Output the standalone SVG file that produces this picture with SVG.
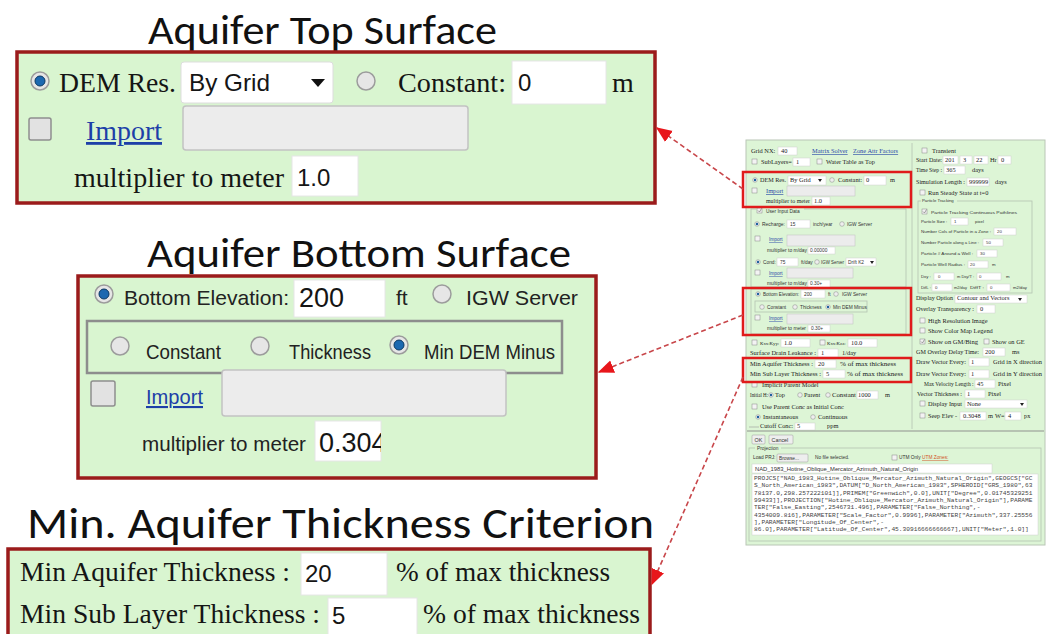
<svg xmlns="http://www.w3.org/2000/svg" width="1052" height="634" viewBox="0 0 1052 634">
<defs>
<style>
.title{font-family:Carlito,Lato,"Open Sans",sans-serif;font-size:41px;fill:#111}
.pan{fill:#d9f5d0;stroke:#9b1b1b;stroke-width:3.5}
.tm{font-family:"Liberation Serif",serif;font-size:28px;fill:#151515}
.tm27{font-family:"Liberation Serif",serif;font-size:27px;fill:#151515}
.sn{font-family:"Liberation Sans",sans-serif;font-size:21px;fill:#222}
.nv{font-family:"Liberation Sans",sans-serif;font-size:24px;fill:#151515}
.inp{fill:#fff;stroke:#e6e6e6;stroke-width:1}
.gin{fill:#ececec;stroke:#c2c2c2;stroke-width:1.5}
.rad{fill:#e6e6e6;stroke:#9c9c9c;stroke-width:1.5}
.dot{fill:#1c68b0;stroke:#0b3863;stroke-width:1}
.chk{fill:#e2e2e2;stroke:#8e8e8e;stroke-width:1.5}
.lnk{fill:#1d3fa8;text-decoration:underline}
.conn{stroke:#c8464a;stroke-width:1.6;stroke-dasharray:5 3;fill:none}
.hl{fill:none;stroke:#e01b1b;stroke-width:2.5}
.sm{font-family:"Liberation Serif",serif;font-size:6.4px;fill:#222}
.ss{font-family:"Liberation Sans",sans-serif;font-size:4.8px;fill:#333}
.sp{font-family:"Liberation Sans",sans-serif;font-size:4.3px;fill:#333}
.mo{font-family:"Liberation Mono",monospace;font-size:6.2px;fill:#444}
.si{fill:#fff;stroke:#d0d0d0;stroke-width:0.5}
.sg{fill:#ececec;stroke:#c0c0c0;stroke-width:0.5}
.sr{fill:#eee;stroke:#888;stroke-width:0.5}
.sd{fill:#1c5f9e}
.sc{fill:#f3f3f3;stroke:#888;stroke-width:0.5}
.sl{fill:#2a48a8;text-decoration:underline}
.fs{fill:none;stroke:#b5c2b2;stroke-width:0.8}
</style>
<marker id="ah" viewBox="0 0 12 10" refX="11" refY="5" markerWidth="16" markerHeight="14" markerUnits="userSpaceOnUse" orient="auto">
<path d="M0,0 L12,5 L0,10 z" fill="#e8161b"/>
</marker>
<clipPath id="c304"><rect x="315" y="421" width="66" height="40"/></clipPath>
</defs>
<rect width="1052" height="634" fill="#fff"/>

<g id="title-top"><text class="title" x="148" y="44" textLength="349" lengthAdjust="spacingAndGlyphs">Aquifer Top Surface</text></g>
<g id="title-bottom"><text class="title" x="147" y="267" textLength="424" lengthAdjust="spacingAndGlyphs">Aquifer Bottom Surface</text></g>
<g id="title-thick"><text class="title" x="27" y="538" style="font-size:44px" textLength="627" lengthAdjust="spacingAndGlyphs">Min. Aquifer Thickness Criterion</text></g>

<g id="panel-top">
<rect class="pan" x="17" y="52" width="638" height="151"/>
<circle class="rad" cx="40" cy="81" r="9"/><circle class="dot" cx="40" cy="81" r="5"/>
<text class="tm" x="59" y="92" textLength="117" lengthAdjust="spacingAndGlyphs">DEM Res.</text>
<rect x="181" y="62" width="152" height="41" rx="3" fill="#fff" stroke="#ddd"/>
<text class="nv" x="189" y="91" textLength="81" lengthAdjust="spacingAndGlyphs">By Grid</text>
<polygon points="311,79 325,79 318,87" fill="#111"/>
<circle class="rad" cx="366" cy="81" r="9"/>
<text class="tm" x="398" y="92" textLength="108" lengthAdjust="spacingAndGlyphs">Constant:</text>
<rect class="inp" x="512" y="61" width="94" height="43"/>
<text class="nv" x="518" y="91">0</text>
<text class="tm" x="612" y="92">m</text>
<rect class="chk" x="29" y="118" width="22" height="22" rx="2"/>
<text class="tm lnk" x="86" y="140" textLength="76" lengthAdjust="spacingAndGlyphs">Import</text>
<rect class="gin" x="183" y="106" width="285" height="44" rx="3"/>
<text class="tm" x="74" y="187" textLength="210" lengthAdjust="spacingAndGlyphs">multiplier to meter</text>
<rect class="inp" x="292" y="156" width="66" height="40"/>
<text class="nv" x="297" y="186">1.0</text>
</g>

<g id="panel-bottom">
<rect class="pan" x="78" y="276" width="518" height="202"/>
<circle class="rad" cx="104" cy="294" r="9"/><circle class="dot" cx="104" cy="294" r="5"/>
<text class="sn" x="124" y="305" textLength="165" lengthAdjust="spacingAndGlyphs">Bottom Elevation:</text>
<rect class="inp" x="294" y="280" width="91" height="37"/>
<text class="nv" x="299" y="307" style="font-size:27px">200</text>
<text class="sn" x="396" y="305">ft</text>
<circle class="rad" cx="442" cy="294" r="9"/>
<text class="sn" x="466" y="305" textLength="112" lengthAdjust="spacingAndGlyphs">IGW Server</text>
<rect x="87" y="321" width="475" height="52" fill="none" stroke="#8d8d8d" stroke-width="2.5"/>
<circle class="rad" cx="120" cy="346" r="9"/>
<text class="sn" x="146" y="359" textLength="75" lengthAdjust="spacingAndGlyphs">Constant</text>
<circle class="rad" cx="260" cy="346" r="9"/>
<text class="sn" x="289" y="359" textLength="82" lengthAdjust="spacingAndGlyphs">Thickness</text>
<circle class="rad" cx="399" cy="345" r="9"/><circle class="dot" cx="399" cy="345" r="5"/>
<text class="sn" x="424" y="359" textLength="131" lengthAdjust="spacingAndGlyphs">Min DEM Minus</text>
<rect class="chk" x="91" y="381" width="24" height="25" rx="2"/>
<text class="sn lnk" x="146" y="404" textLength="57" lengthAdjust="spacingAndGlyphs">Import</text>
<rect class="gin" x="222" y="370" width="284" height="46" rx="3"/>
<text class="sn" x="142" y="451" textLength="164" lengthAdjust="spacingAndGlyphs">multiplier to meter</text>
<rect class="inp" x="315" y="421" width="66" height="40"/>
<text class="nv" x="319" y="452" style="font-size:27px" clip-path="url(#c304)">0.304</text>
</g>

<g id="panel-thick">
<rect class="pan" x="8" y="549" width="642" height="95"/>
<text class="tm27" x="20" y="581" textLength="270" lengthAdjust="spacingAndGlyphs">Min Aquifer Thickness :</text>
<rect class="inp" x="301" y="553" width="86" height="42"/>
<text class="nv" x="305" y="582">20</text>
<text class="tm27" x="396" y="581" textLength="214" lengthAdjust="spacingAndGlyphs">% of max thickness</text>
<text class="tm27" x="20" y="623" textLength="300" lengthAdjust="spacingAndGlyphs">Min Sub Layer Thickness :</text>
<rect class="inp" x="328" y="598" width="89" height="40"/>
<text class="nv" x="332" y="624">5</text>
<text class="tm27" x="423" y="623" textLength="217" lengthAdjust="spacingAndGlyphs">% of max thickness</text>
</g>

<g id="screenshot">
<rect x="746" y="140" width="299" height="405" fill="#ddf5d6" stroke="#b9c6b6" stroke-width="1"/>
<line x1="912" y1="143" x2="912" y2="429" stroke="#b5c2b2" stroke-width="0.8"/>
<!-- left column -->
<text class="sm" x="751" y="153">Grid NX:</text>
<rect class="si" x="778" y="147" width="19" height="8"/><text class="sm" x="781" y="153">40</text>
<text class="sm sl" x="812" y="153">Matrix Solver</text>
<text class="sm sl" x="853" y="153">Zone Attr Factors</text>
<rect class="sc" x="752" y="159" width="5" height="5"/>
<text class="sm" x="761" y="164">SubLayers=</text>
<rect class="si" x="793" y="158" width="17" height="8"/><text class="sm" x="796" y="164">1</text>
<rect class="sc" x="817" y="159" width="5" height="5"/>
<text class="sm" x="826" y="164">Water Table as Top</text>

<circle class="sr" cx="755" cy="180" r="2.3"/><circle class="sd" cx="755" cy="180" r="1.2"/>
<text class="sm" x="760" y="182" textLength="26" lengthAdjust="spacingAndGlyphs">DEM Res.</text>
<rect class="si" x="788" y="176" width="38" height="9"/><text class="sm" x="790" y="182">By Grid</text>
<polygon points="818,179 822,179 820,182" fill="#222"/>
<circle class="sr" cx="832" cy="180" r="2.3"/>
<text class="sm" x="838" y="182" textLength="24" lengthAdjust="spacingAndGlyphs">Constant:</text>
<rect class="si" x="864" y="176" width="22" height="9"/><text class="sm" x="866" y="182">0</text>
<text class="sm" x="890" y="182">m</text>
<rect class="sc" x="752" y="188" width="5" height="5"/>
<text class="sm sl" x="766" y="193">Import</text>
<rect class="sg" x="787" y="186" width="68" height="10"/>
<text class="sm" x="766" y="203" textLength="44" lengthAdjust="spacingAndGlyphs">multiplier to meter</text>
<rect class="si" x="812" y="197" width="18" height="8"/><text class="sm" x="814" y="203">1.0</text>

<rect class="fs" x="751" y="209" width="155" height="78"/>
<rect x="756" y="207" width="48" height="6" fill="#ddf5d6"/>
<rect class="sc" x="757" y="208" width="5" height="5"/>
<path d="M758,210.5 L759.5,212 L761.5,208.5" stroke="#666" stroke-width="0.6" fill="none"/>
<text class="ss" x="766" y="213">User Input Data</text>
<circle class="sr" cx="757" cy="224" r="2.3"/><circle class="sd" cx="757" cy="224" r="1.2"/>
<text class="ss" x="762" y="226" textLength="23" lengthAdjust="spacingAndGlyphs">Recharge:</text>
<rect class="si" x="787" y="220" width="23" height="8"/><text class="ss" x="790" y="226">15</text>
<text class="ss" x="813" y="226">inch/year</text>
<circle class="sr" cx="842" cy="224" r="2.3"/>
<text class="ss" x="847" y="226">IGW Server</text>
<rect class="sc" x="755" y="236" width="5" height="5"/>
<text class="ss sl" x="769" y="241">Import</text>
<rect class="sg" x="787" y="235" width="68" height="11"/>
<text class="ss" x="767" y="252" textLength="40" lengthAdjust="spacingAndGlyphs">multiplier to m/day</text>
<rect class="si" x="808" y="247" width="27" height="7"/><text class="ss" x="810" y="252">0.00000</text>
<circle class="sr" cx="758" cy="262" r="2.3"/><circle class="sd" cx="758" cy="262" r="1.2"/>
<text class="ss" x="763" y="264">Cond:</text>
<rect class="si" x="777" y="258" width="21" height="8"/><text class="ss" x="780" y="264">75</text>
<text class="ss" x="801" y="264">ft/day</text>
<circle class="sr" cx="817" cy="262" r="2.3"/>
<text class="ss" x="821" y="264" textLength="23" lengthAdjust="spacingAndGlyphs">IGW Server</text>
<rect class="si" x="846" y="258" width="30" height="8"/><text class="ss" x="848" y="264">Drift K2</text>
<polygon points="870,261 874,261 872,264" fill="#222"/>
<rect class="sc" x="755" y="270" width="5" height="5"/>
<text class="ss sl" x="769" y="275">Import</text>
<rect class="sg" x="787" y="268" width="66" height="10"/>
<text class="ss" x="767" y="285" textLength="40" lengthAdjust="spacingAndGlyphs">multiplier to m/day</text>
<rect class="si" x="808" y="280" width="22" height="7"/><text class="ss" x="810" y="285">0.30+</text>

<rect class="fs" x="751" y="289" width="155" height="45"/>
<circle class="sr" cx="758" cy="294" r="2.3"/><circle class="sd" cx="758" cy="294" r="1.2"/>
<text class="ss" x="763" y="296" textLength="36" lengthAdjust="spacingAndGlyphs">Bottom Elevation:</text>
<rect class="si" x="801" y="290" width="24" height="8"/><text class="ss" x="804" y="296">200</text>
<text class="ss" x="828" y="296">ft</text>
<circle class="sr" cx="836" cy="294" r="2.3"/>
<text class="ss" x="842" y="296">IGW Server</text>
<rect class="fs" x="755" y="301" width="112" height="11" stroke="#999"/>
<circle class="sr" cx="762" cy="307" r="2.3"/>
<text class="ss" x="767" y="309">Constant</text>
<circle class="sr" cx="795" cy="307" r="2.3"/>
<text class="ss" x="800" y="309">Thickness</text>
<circle class="sr" cx="828" cy="307" r="2.3"/><circle class="sd" cx="828" cy="307" r="1.2"/>
<text class="ss" x="833" y="309">Min DEM Minus</text>
<rect class="sc" x="755" y="315" width="5" height="5"/>
<text class="ss sl" x="769" y="320">Import</text>
<rect class="sg" x="787" y="314" width="66" height="10"/>
<text class="ss" x="767" y="330" textLength="39" lengthAdjust="spacingAndGlyphs">multiplier to meter</text>
<rect class="si" x="808" y="325" width="22" height="7"/><text class="ss" x="811" y="330">0.30+</text>

<rect class="sc" x="752" y="340" width="5" height="5"/>
<text class="sm" x="760" y="345" style="font-size:4.8px">Kxx:Kyy:</text>
<rect class="si" x="781" y="339" width="29" height="8"/><text class="sm" x="784" y="345">1.0</text>
<rect class="sc" x="820" y="340" width="5" height="5"/>
<text class="sm" x="827" y="345" style="font-size:4.8px">Kxx:Kzz:</text>
<rect class="si" x="848" y="339" width="29" height="8"/><text class="sm" x="851" y="345">10.0</text>
<text class="sm" x="750" y="355" textLength="66" lengthAdjust="spacingAndGlyphs">Surface Drain Leakance :</text>
<rect class="si" x="818" y="349" width="20" height="8"/><text class="sm" x="821" y="355">1</text>
<text class="sm" x="842" y="355">1/day</text>
<text class="sm" x="750" y="366" textLength="63" lengthAdjust="spacingAndGlyphs">Min Aquifer Thickness :</text>
<rect class="si" x="815" y="360" width="21" height="8"/><text class="sm" x="818" y="366">20</text>
<text class="sm" x="840" y="366" textLength="56" lengthAdjust="spacingAndGlyphs">% of max thickness</text>
<text class="sm" x="750" y="376" textLength="71" lengthAdjust="spacingAndGlyphs">Min Sub Layer Thickness :</text>
<rect class="si" x="823" y="370" width="22" height="8"/><text class="sm" x="826" y="376">5</text>
<text class="sm" x="847" y="376" textLength="56" lengthAdjust="spacingAndGlyphs">% of max thickness</text>
<rect class="sc" x="752" y="382" width="5" height="5"/>
<text class="sm" x="762" y="387">Implicit Parent Model</text>
<text class="sm" x="750" y="397" textLength="18" lengthAdjust="spacingAndGlyphs">Initial H:</text>
<circle class="sr" cx="771" cy="395" r="2.3"/><circle class="sd" cx="771" cy="395" r="1.2"/>
<text class="sm" x="775" y="397">Top</text>
<circle class="sr" cx="800" cy="395" r="2.3"/>
<text class="sm" x="804" y="397">Parent</text>
<circle class="sr" cx="828" cy="395" r="2.3"/>
<text class="sm" x="832" y="397" textLength="24" lengthAdjust="spacingAndGlyphs">Constant</text>
<rect class="si" x="857" y="391" width="21" height="8"/><text class="sm" x="858" y="397">1000</text>
<text class="sm" x="885" y="397">m</text>
<rect class="sc" x="752" y="404" width="5" height="5"/>
<text class="sm" x="762" y="409">Use Parent Conc as Initial Conc</text>
<circle class="sr" cx="758" cy="417" r="2.3"/><circle class="sd" cx="758" cy="417" r="1.2"/>
<text class="sm" x="763" y="419">Instantaneous</text>
<circle class="sr" cx="813" cy="417" r="2.3"/>
<text class="sm" x="818" y="419">Continuous</text>
<line x1="749" y1="427" x2="759" y2="427" stroke="#999" stroke-width="0.6"/>
<text class="sm" x="760" y="428" textLength="33" lengthAdjust="spacingAndGlyphs">Cutoff Conc:</text>
<rect class="si" x="795" y="423" width="20" height="7"/><text class="sm" x="797" y="428">5</text>
<text class="sm" x="827" y="428">ppm</text>
<line x1="747" y1="431" x2="1044" y2="431" stroke="#a8b2a6" stroke-width="1.5"/>

<!-- right column -->
<rect class="sc" x="922" y="148" width="5" height="5"/>
<text class="sm" x="932" y="153">Transient</text>
<text class="sm" x="916" y="162" textLength="26" lengthAdjust="spacingAndGlyphs">Start Date:</text>
<rect class="si" x="943" y="156" width="15" height="8"/><text class="sm" x="945" y="162">201</text>
<rect class="si" x="960" y="156" width="12" height="8"/><text class="sm" x="963" y="162">3</text>
<rect class="si" x="974" y="156" width="14" height="8"/><text class="sm" x="976" y="162">22</text>
<text class="sm" x="990" y="162">Hr</text>
<rect class="si" x="998" y="156" width="13" height="8"/><text class="sm" x="1001" y="162">0</text>
<text class="sm" x="916" y="172" textLength="26" lengthAdjust="spacingAndGlyphs">Time Step :</text>
<rect class="si" x="944" y="166" width="21" height="8"/><text class="sm" x="946" y="172">365</text>
<text class="sm" x="972" y="172">days</text>
<text class="sm" x="916" y="184" textLength="49" lengthAdjust="spacingAndGlyphs">Simulation Length :</text>
<rect class="si" x="967" y="178" width="22" height="8"/><text class="sm" x="969" y="184">999999</text>
<text class="sm" x="995" y="184">days</text>
<rect class="sc" x="920" y="190" width="5" height="5"/>
<text class="sm" x="928" y="195">Run Steady State at t=0</text>

<rect class="fs" x="918" y="201" width="114" height="92"/>
<rect x="921" y="198" width="36" height="5" fill="#ddf5d6"/>
<text class="sp" x="922" y="202">Particle Tracking</text>
<rect class="sc" x="922" y="209" width="5" height="5"/>
<path d="M923,211.5 L924.5,213 L926.5,209.5" stroke="#666" stroke-width="0.6" fill="none"/>
<text class="sp" x="931" y="214" textLength="86" lengthAdjust="spacingAndGlyphs">Particle Tracking Continuous Pathlines</text>
<text class="sp" x="921" y="223">Particle Size :</text>
<rect class="si" x="951" y="218" width="17" height="7"/><text class="sp" x="954" y="223">1</text>
<text class="sp" x="975" y="223">pixel</text>
<text class="sp" x="921" y="233" textLength="70" lengthAdjust="spacingAndGlyphs">Number Cols of Particle in a Zone :</text>
<rect class="si" x="994" y="228" width="22" height="7"/><text class="sp" x="997" y="233">20</text>
<text class="sp" x="921" y="244" textLength="58" lengthAdjust="spacingAndGlyphs">Number Particle along a Line :</text>
<rect class="si" x="983" y="239" width="20" height="7"/><text class="sp" x="986" y="244">50</text>
<text class="sp" x="921" y="255" textLength="52" lengthAdjust="spacingAndGlyphs">Particle # Around a Well :</text>
<rect class="si" x="977" y="250" width="20" height="7"/><text class="sp" x="980" y="255">30</text>
<text class="sp" x="921" y="266" textLength="44" lengthAdjust="spacingAndGlyphs">Particle Well Radius :</text>
<rect class="si" x="968" y="261" width="20" height="7"/><text class="sp" x="970" y="266">20</text>
<text class="sp" x="992" y="266">m</text>
<text class="sp" x="921" y="278">Dxy :</text>
<rect class="si" x="934" y="273" width="20" height="7"/><text class="sp" x="938" y="278">0</text>
<text class="sp" x="957" y="278" textLength="17" lengthAdjust="spacingAndGlyphs">m Dxy/T :</text>
<rect class="si" x="977" y="273" width="24" height="7"/><text class="sp" x="979" y="278">0</text>
<text class="sp" x="1006" y="278">m</text>
<text class="sp" x="921" y="289">DifL :</text>
<rect class="si" x="932" y="284" width="20" height="7"/><text class="sp" x="935" y="289">0</text>
<text class="sp" x="954" y="289" textLength="13" lengthAdjust="spacingAndGlyphs">m2/day</text>
<text class="sp" x="970" y="289" textLength="14" lengthAdjust="spacingAndGlyphs">DiffT :</text>
<rect class="si" x="987" y="284" width="23" height="7"/><text class="sp" x="990" y="289">0</text>
<text class="sp" x="1013" y="289" textLength="14" lengthAdjust="spacingAndGlyphs">m2/day</text>

<text class="sm" x="916" y="300" textLength="37" lengthAdjust="spacingAndGlyphs">Display Option</text>
<rect class="si" x="955" y="295" width="72" height="8"/><text class="sm" x="957" y="300">Contour and Vectors</text>
<polygon points="1018,298 1022,298 1020,301" fill="#222"/>
<text class="sm" x="916" y="311" textLength="58" lengthAdjust="spacingAndGlyphs">Overlay Transparency :</text>
<rect class="si" x="977" y="305" width="18" height="8"/><text class="sm" x="980" y="311">0</text>
<rect class="sc" x="920" y="318" width="5" height="5"/>
<text class="sm" x="928" y="323">High Resolution Image</text>
<rect class="sc" x="920" y="328" width="5" height="5"/>
<text class="sm" x="928" y="333">Show Color Map Legend</text>
<rect class="sc" x="920" y="339" width="5" height="5"/>
<path d="M921,341.5 L922.5,343 L924.5,339.5" stroke="#666" stroke-width="0.6" fill="none"/>
<text class="sm" x="928" y="344" textLength="50" lengthAdjust="spacingAndGlyphs">Show on GM/Bing</text>
<rect class="sc" x="984" y="339" width="5" height="5"/>
<text class="sm" x="992" y="344">Show on GE</text>
<text class="sm" x="916" y="354" textLength="63" lengthAdjust="spacingAndGlyphs">GM Overlay Delay Time:</text>
<rect class="si" x="983" y="348" width="22" height="8"/><text class="sm" x="985" y="354">200</text>
<text class="sm" x="1012" y="354">ms</text>
<text class="sm" x="916" y="364" textLength="50" lengthAdjust="spacingAndGlyphs">Draw Vector Every:</text>
<rect class="si" x="969" y="358" width="20" height="8"/><text class="sm" x="971" y="364">1</text>
<text class="sm" x="993" y="364" textLength="49" lengthAdjust="spacingAndGlyphs">Grid in X direction</text>
<text class="sm" x="916" y="376" textLength="50" lengthAdjust="spacingAndGlyphs">Draw Vector Every:</text>
<rect class="si" x="969" y="370" width="20" height="8"/><text class="sm" x="971" y="376">1</text>
<text class="sm" x="993" y="376" textLength="49" lengthAdjust="spacingAndGlyphs">Grid in Y direction</text>
<text class="sm" x="924" y="386" style="font-size:5.5px">Max Velocity Length :</text>
<rect class="si" x="975" y="380" width="20" height="8"/><text class="sm" x="977" y="386">45</text>
<text class="sm" x="998" y="386">Pixel</text>
<text class="sm" x="917" y="396" textLength="45" lengthAdjust="spacingAndGlyphs">Vector Thickness :</text>
<rect class="si" x="965" y="390" width="20" height="8"/><text class="sm" x="967" y="396">1</text>
<text class="sm" x="988" y="396">Pixel</text>
<rect class="sc" x="920" y="401" width="5" height="5"/>
<text class="sm" x="928" y="406" textLength="34" lengthAdjust="spacingAndGlyphs">Display Input</text>
<rect class="si" x="965" y="400" width="62" height="8"/><text class="sm" x="967" y="406">None</text>
<polygon points="1020,403 1024,403 1022,406" fill="#222"/>
<rect class="sc" x="920" y="413" width="5" height="5"/>
<text class="sm" x="928" y="418" textLength="29" lengthAdjust="spacingAndGlyphs">Seep Elev -</text>
<rect class="si" x="960" y="412" width="26" height="8"/><text class="sm" x="963" y="418">0.3048</text>
<text class="sm" x="988" y="418">m</text>
<text class="sm" x="995" y="418">W=</text>
<rect class="si" x="1005" y="412" width="16" height="8"/><text class="sm" x="1008" y="418">4</text>
<text class="sm" x="1024" y="418">px</text>

<!-- buttons + projection -->
<rect x="752" y="435" width="13" height="9" rx="1" fill="#eee" stroke="#999" stroke-width="0.5"/>
<text class="ss" x="754.5" y="441.5" style="font-size:5.4px">OK</text>
<rect x="769" y="435" width="24" height="9" rx="1" fill="#eee" stroke="#999" stroke-width="0.5"/>
<text class="ss" x="771.5" y="441.5" style="font-size:5.4px">Cancel</text>
<rect class="fs" x="749" y="448" width="292" height="93"/>
<rect x="755" y="445" width="26" height="5" fill="#ddf5d6"/>
<text class="ss" x="757" y="450">Projection</text>
<text class="ss" x="753" y="459">Load PRJ:</text>
<rect x="777" y="454" width="31" height="8" rx="1" fill="#eee" stroke="#999" stroke-width="0.5"/>
<text class="ss" x="779" y="460">Browse...</text>
<text class="ss" x="815" y="459">No file selected.</text>
<rect class="sc" x="892" y="455" width="5" height="5"/>
<text class="ss" x="899" y="459">UTM Only</text>
<text class="ss" x="922" y="459" style="fill:#d2501e;text-decoration:underline">UTM Zones:</text>
<rect class="si" x="752" y="464" width="240" height="9"/>
<text class="ss" x="755" y="471" style="font-size:5.4px" textLength="163" lengthAdjust="spacingAndGlyphs">NAD_1983_Hotine_Oblique_Mercator_Azimuth_Natural_Origin</text>
<rect class="si" x="752" y="474" width="286" height="61"/>
<text class="mo" x="754" y="480">PROJCS["NAD_1983_Hotine_Oblique_Mercator_Azimuth_Natural_Origin",GEOGCS["GC</text>
<text class="mo" x="754" y="487.3">S_North_American_1983",DATUM["D_North_American_1983",SPHEROID["GRS_1980",63</text>
<text class="mo" x="754" y="494.6">78137.0,298.257222101]],PRIMEM["Greenwich",0.0],UNIT["Degree",0.01745329251</text>
<text class="mo" x="754" y="501.9">99433]],PROJECTION["Hotine_Oblique_Mercator_Azimuth_Natural_Origin"],PARAME</text>
<text class="mo" x="754" y="509.2">TER["False_Easting",2546731.496],PARAMETER["False_Northing",-</text>
<text class="mo" x="754" y="516.5">4354009.816],PARAMETER["Scale_Factor",0.9996],PARAMETER["Azimuth",337.25556</text>
<text class="mo" x="754" y="523.8">],PARAMETER["Longitude_Of_Center",-</text>
<text class="mo" x="754" y="531.1">86.0],PARAMETER["Latitude_Of_Center",45.30916666666667],UNIT["Meter",1.0]]</text>

<rect class="hl" x="743" y="172" width="168" height="35"/>
<rect class="hl" x="743" y="288" width="168" height="47"/>
<rect class="hl" x="743" y="358" width="168" height="24"/>
</g>

<g id="connectors">
<path class="conn" d="M743,189 L657,128" marker-end="url(#ah)"/>
<path class="conn" d="M743,315 L599,372" marker-end="url(#ah)"/>
<path class="conn" d="M743,377 L652,584" marker-end="url(#ah)"/>
</g>
</svg>
